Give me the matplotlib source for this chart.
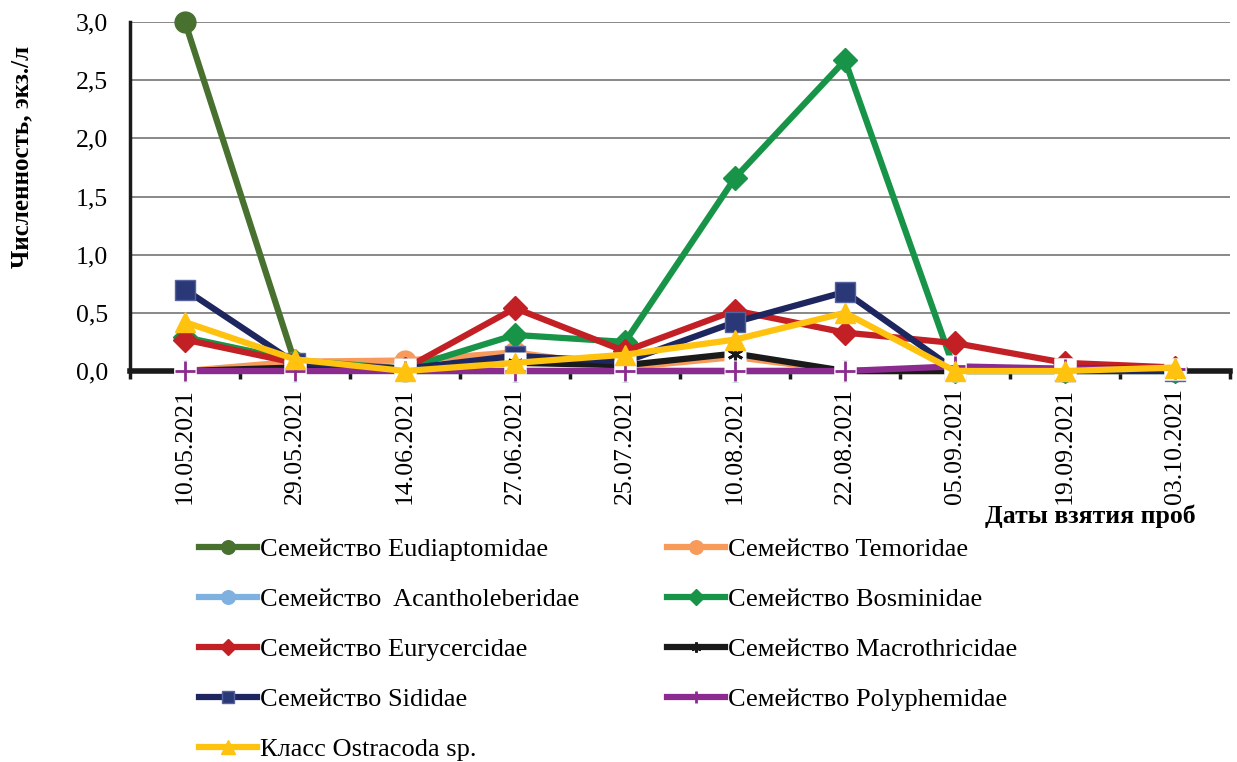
import matplotlib
matplotlib.use("Agg")
import matplotlib.pyplot as plt
from matplotlib.lines import Line2D
import numpy as np

plt.rcParams['font.family'] = ['Liberation Serif', 'DejaVu Serif']

# sampling dates
dates = ['10.05.2021', '29.05.2021', '14.06.2021', '27.06.2021', '25.07.2021',
         '10.08.2021', '22.08.2021', '05.09.2021', '19.09.2021', '03.10.2021']

# abundance, ind./l
eudiaptomidae = [3.0, 0.07, 0.0, 0.0, 0.0, 0.0, 0.0, 0.0, 0.0, 0.0]
temoridae = [0.0, 0.08, 0.09, 0.16, 0.03, 0.12, 0.0, 0.0, 0.0, 0.0]
acantholeberidae = [0.0, 0.0, 0.0, 0.0, 0.0, 0.0, 0.0, 0.0, 0.0, 0.0]
bosminidae = [0.29, 0.09, 0.02, 0.31, 0.25, 1.66, 2.67, 0.0, 0.0, 0.0]
eurycercidae = [0.27, 0.07, 0.02, 0.54, 0.17, 0.52, 0.33, 0.24, 0.07, 0.03]
macrothricidae = [0.0, 0.03, 0.02, 0.07, 0.05, 0.15, 0.0, 0.0, 0.02, 0.02]
sididae = [0.70, 0.07, 0.02, 0.13, 0.08, 0.42, 0.68, 0.01, 0.0, 0.0]
polyphemidae = [0.0, 0.0, 0.0, 0.0, 0.0, 0.0, 0.0, 0.04, 0.02, 0.02]
ostracoda = [0.42, 0.10, 0.0, 0.07, 0.14, 0.27, 0.50, 0.0, 0.0, 0.03]

series = [
    ('Семейство Eudiaptomidae', eudiaptomidae, '#48702F', 'o', '#48702F', '#48702F'),
    ('Семейство Temoridae', temoridae, '#F79A5A', 'o', '#F79A5A', '#F79A5A'),
    ('Семейство  Acantholeberidae', acantholeberidae, '#7EB0E0', 'o', '#7EB0E0', '#7EB0E0'),
    ('Семейство Bosminidae', bosminidae, '#179447', 'D', '#179447', '#179447'),
    ('Семейство Eurycercidae', eurycercidae, '#C32026', 'D', '#C32026', '#C32026'),
    ('Семейство Macrothricidae', macrothricidae, '#1A1A1A', (6, 2, 0), 'none', '#1A1A1A'),
    ('Семейство Sididae', sididae, '#1E2660', 's', '#2B3877', '#55649E'),
    ('Семейство Polyphemidae', polyphemidae, '#8B2A8F', '+', 'none', '#8B2A8F'),
    ('Класс Ostracoda sp.', ostracoda, '#FFC20E', '^', '#FFC20E', '#FFC20E'),
]

fig = plt.figure(figsize=(12.37, 7.62), dpi=100)
ax = fig.add_axes([130 / 1237, 1 - 371 / 762, 1100 / 1237, 349 / 762])

x = np.arange(len(dates))
sizes = {'o': 15, 'D': 12, 's': 14, '^': 15, '+': 14}
handles = []
for i, (name, vals, col, mk, fc, ec) in enumerate(series):
    ms = sizes.get(mk, 11)
    z = 3 + i * 0.08
    if i == 8:
        z = 4.5
    lined = mk in ('+', (6, 2, 0))
    mew = 2 if lined else 1
    if lined:
        # Excel draws these markers on a white box that cuts the lines below
        zb = 3.9 + i * 0.01
        ax.plot(x, vals, ls='none', marker='s', ms=16, mfc='white', mec='none',
                zorder=zb, clip_on=False)
        ax.plot(x, vals, ls='none', marker=mk, ms=ms, mec=ec, mew=2,
                zorder=zb + 0.005, clip_on=False)
    ax.plot(x, vals, color=col, lw=4.5, marker='none' if lined else mk, ms=ms,
            mfc=fc, mec=ec, mew=1, solid_joinstyle='miter', zorder=z, clip_on=False)
    handles.append(Line2D([], [], color=col, lw=4.5, marker=mk, ms=ms * 0.65,
                          mfc=fc, mec=ec, mew=mew, label=name))

ax.set_xlim(-0.5, 9.5)
ax.set_ylim(0, 3.0)
ax.set_yticks(np.arange(0, 3.01, 0.5))
ax.set_yticklabels([f'{v:.1f}'.replace('.', ',') for v in np.arange(0, 3.01, 0.5)])
ax.yaxis.grid(True, color='#7F7F7F', lw=1.3)
ax.set_axisbelow(True)

ax.set_xticks(np.arange(-0.5, 10, 1))
ax.set_xticklabels([])
ax.set_xticks(x, minor=True)
ax.set_xticklabels(dates, minor=True, rotation=90, fontsize=18.5)
ax.tick_params(axis='x', which='major', length=6, width=2.5, direction='out', color='#1A1A1A')
ax.tick_params(axis='x', which='minor', length=0, pad=12)
ax.tick_params(axis='y', length=0, pad=16, labelsize=18.5)

for s in ['top', 'right']:
    ax.spines[s].set_visible(False)
ax.spines['left'].set_linewidth(2.5)
ax.spines['left'].set_color('#1A1A1A')
ax.spines['bottom'].set_linewidth(4)
ax.spines['bottom'].set_color('#1A1A1A')
ax.spines['bottom'].set_zorder(2.5)

fig.text(22 / 1237, 1 - 157 / 762, 'Численность, экз./л', rotation=90,
         ha='center', va='center', fontsize=18, fontweight='bold')
fig.text(1090 / 1237, 1 - 516 / 762, 'Даты взятия проб', ha='center', va='center',
         fontsize=18.5, fontweight='bold')

col1 = [handles[i] for i in (0, 2, 4, 6, 8)]
col2 = [handles[i] for i in (1, 3, 5, 7)]
leg_kw = dict(frameon=False, fontsize=19, handlelength=2.2, handletextpad=0.1,
              labelspacing=1.0, borderpad=0, borderaxespad=0)
for hs, xl in ((col1, 199), (col2, 667)):
    fig.legend(hs, [h.get_label() for h in hs], loc='upper left',
               bbox_to_anchor=(xl / 1237, 1 - 538 / 762), **leg_kw)

fig.savefig('out.png', dpi=100)
